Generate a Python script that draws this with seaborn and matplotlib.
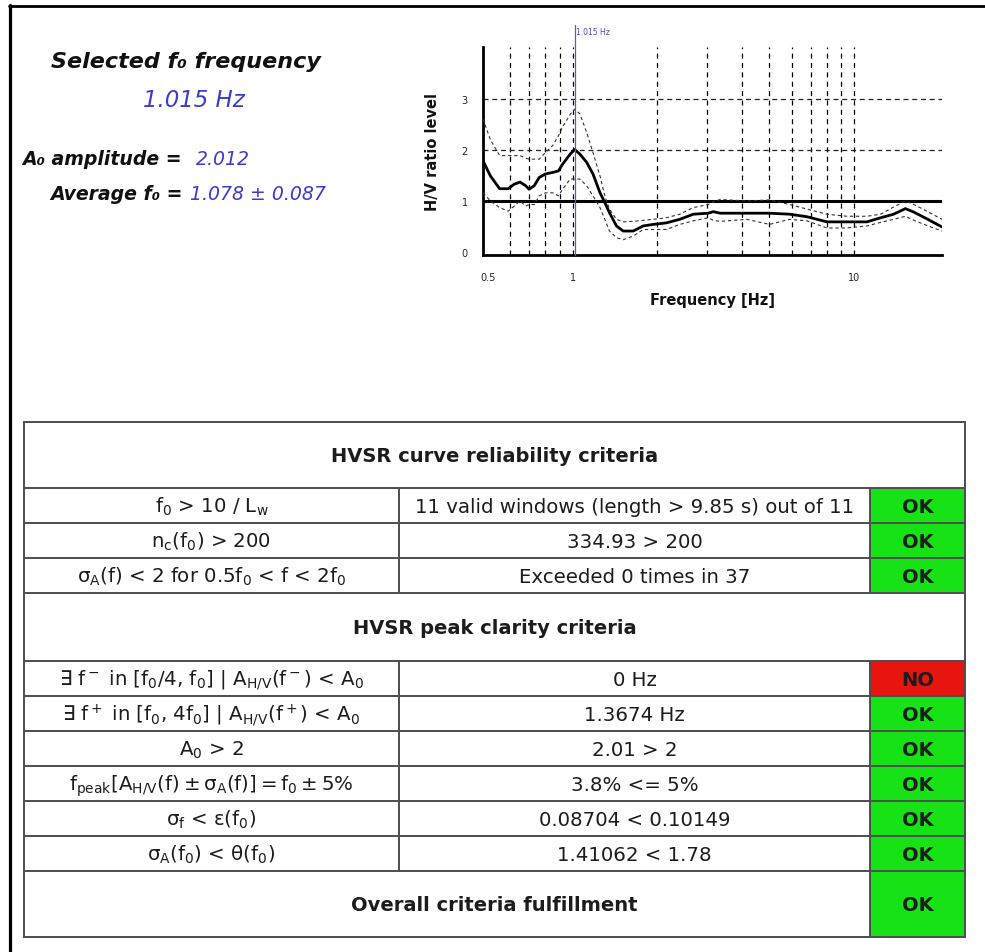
import matplotlib
matplotlib.use("Agg")
import matplotlib.pyplot as plt
import seaborn as sns
import pandas as pd
from matplotlib.patches import Rectangle
from matplotlib.ticker import NullLocator

# ---------------- data ----------------
freq = [0.48, 0.51, 0.55, 0.59, 0.62, 0.65, 0.68, 0.70, 0.73, 0.76,
        0.80, 0.85, 0.89, 0.92, 0.98, 1.015, 1.06, 1.12, 1.18, 1.25,
        1.30, 1.35, 1.43, 1.51, 1.64, 1.78, 1.93, 2.15, 2.40, 2.68,
        3.03, 3.16, 3.34, 4.15, 5.0, 5.9, 6.8, 8.0, 9.4, 11.1,
        12.4, 13.8, 15.2, 16.3, 18.1, 20.5]
hv_mean = [1.79, 1.49, 1.24, 1.24, 1.33, 1.37, 1.30, 1.23, 1.30, 1.46,
           1.53, 1.56, 1.59, 1.72, 1.92, 2.01, 1.92, 1.76, 1.53, 1.16,
           0.97, 0.77, 0.51, 0.41, 0.41, 0.51, 0.54, 0.57, 0.64, 0.74,
           0.76, 0.79, 0.76, 0.76, 0.76, 0.74, 0.69, 0.59, 0.59, 0.59,
           0.67, 0.74, 0.85, 0.78, 0.65, 0.49]
hv_upper = [2.61, 2.20, 1.89, 1.89, 1.89, 1.89, 1.84, 1.82, 1.82, 1.82,
            1.95, 2.09, 2.28, 2.45, 2.70, 2.80, 2.71, 2.35, 1.95, 1.49,
            1.10, 0.84, 0.64, 0.59, 0.60, 0.62, 0.64, 0.67, 0.74, 0.87,
            0.93, 0.98, 1.03, 1.00, 1.02, 0.93, 0.84, 0.74, 0.70, 0.70,
            0.74, 0.88, 1.00, 0.93, 0.80, 0.64]
hv_lower = [1.16, 1.00, 0.87, 0.80, 0.90, 1.00, 0.90, 0.93, 0.93, 1.10,
            1.16, 1.16, 1.10, 1.23, 1.43, 1.43, 1.43, 1.30, 1.10, 0.87,
            0.64, 0.41, 0.28, 0.24, 0.31, 0.44, 0.44, 0.44, 0.54, 0.61,
            0.67, 0.62, 0.60, 0.64, 0.54, 0.64, 0.61, 0.47, 0.47, 0.51,
            0.58, 0.64, 0.70, 0.62, 0.52, 0.41]
grid_freqs = [0.6, 0.7, 0.8, 0.9, 1, 2, 3, 4, 5, 6, 7, 8, 9, 10]
grid_levels = [2, 3]
reference_level = 1
f0_selected = 1.015
f0_label = "1.015 Hz"
x_ticks = [0.5, 1, 10]
x_tick_labels = ["0.5", "1", "10"]
y_ticks = [0, 1, 2, 3]
y_tick_labels = ["0", "1", "2", "3"]

title_text = "Selected f\u2080 frequency"
f0_text = "1.015 Hz"
amp_label = "A\u2080 amplitude = "
amp_value = "2.012"
avg_label = "Average f\u2080 = "
avg_value = "1.078 \u00b1 0.087"

reliability_title = "HVSR curve reliability criteria"
reliability_criteria = [r"$f_0$ > 10 / $L_w$",
                        r"$n_c(f_0)$ > 200",
                        r"$\sigma_A(f)$ < 2 for 0.5$f_0$ < f < 2$f_0$"]
reliability_values = ["11 valid windows (length > 9.85 s) out of 11",
                      "334.93 > 200",
                      "Exceeded 0 times in 37"]
reliability_status = ["OK", "OK", "OK"]

clarity_title = "HVSR peak clarity criteria"
clarity_criteria = [r"$\exists$ $f^-$ in [$f_0$/4, $f_0$] | $A_{H/V}(f^-)$ < $A_0$",
                    r"$\exists$ $f^+$ in [$f_0$, 4$f_0$] | $A_{H/V}(f^+)$ < $A_0$",
                    r"$A_0$ > 2",
                    r"$f_{peak}[A_{H/V}(f) \pm \sigma_A(f)] = f_0 \pm 5\%$",
                    r"$\sigma_f$ < $\varepsilon(f_0)$",
                    r"$\sigma_A(f_0)$ < $\theta(f_0)$"]
clarity_values = ["0 Hz", "1.3674 Hz", "2.01 > 2", "3.8% <= 5%",
                  "0.08704 < 0.10149", "1.41062 < 1.78"]
clarity_status = ["NO", "OK", "OK", "OK", "OK", "OK"]

overall_title = "Overall criteria fulfillment"
overall_status = "OK"

status_colors = {"OK": "#16e216", "NO": "#e8150f"}

# ---------------- style ----------------
sns.set_style("white")
plt.rcParams["font.family"] = ["DejaVu Sans"]
plt.rcParams["mathtext.fontset"] = "dejavusans"
plt.rcParams["mathtext.default"] = "regular"

W, H = 985, 953
fig = plt.figure(figsize=(W / 100, H / 100), dpi=100, facecolor="white")

bg = fig.add_axes([0, 0, 1, 1])
bg.set_xlim(0, W)
bg.set_ylim(H, 0)
bg.axis("off")

# page border lines
bg.plot([9, W], [6.5, 6.5], color="black", lw=2.0, clip_on=False)
bg.plot([10, 10], [6, H], color="black", lw=2.3, clip_on=False)

# ---------------- top-left texts ----------------
BLUE = "#3b3bcc"
bg.text(186, 68, title_text, ha="center", va="baseline", fontsize=16,
        fontweight="bold", style="italic", color="#111111")
bg.text(194, 107, f0_text, ha="center", va="baseline", fontsize=16.5,
        style="italic", color=BLUE)
bg.text(22, 165, amp_label, ha="left", va="baseline", fontsize=13.6,
        fontweight="bold", style="italic", color="#111111")
bg.text(196, 165, amp_value, ha="left", va="baseline", fontsize=13.6,
        style="italic", color=BLUE)
bg.text(50, 200, avg_label, ha="left", va="baseline", fontsize=13.6,
        fontweight="bold", style="italic", color="#111111")
bg.text(190, 200, avg_value, ha="left", va="baseline", fontsize=13.6,
        style="italic", color=BLUE)

# ---------------- chart ----------------
L, T, R, B = 483, 48, 942, 256
ax = fig.add_axes([L / W, 1 - B / H, (R - L) / W, (B - T) / H])
ax.patch.set_alpha(0)
ax.set_xscale("log")

df = pd.DataFrame({"freq": freq, "mean": hv_mean,
                   "upper": hv_upper, "lower": hv_lower})

for f in grid_freqs:
    ax.axvline(f, color="black", lw=0.9, ls=(0, (4, 3.5)), zorder=1)
for v in grid_levels:
    ax.axhline(v, color="#222222", lw=0.9, ls=(0, (4, 3)), zorder=1)
ax.axhline(reference_level, color="black", lw=2.2, zorder=3)

sns.lineplot(data=df, x="freq", y="upper", ax=ax, color="#333333",
             lw=0.8, linestyle=(0, (3, 2.5)), zorder=4)
sns.lineplot(data=df, x="freq", y="lower", ax=ax, color="#333333",
             lw=0.8, linestyle=(0, (3, 2.5)), zorder=4)
sns.lineplot(data=df, x="freq", y="mean", ax=ax, color="black",
             lw=2.0, zorder=5)

ax.plot([f0_selected, f0_selected], [0, 1.105], color="#5a5ad0", lw=0.9,
        transform=ax.get_xaxis_transform(), clip_on=False, zorder=6)
ax.text(f0_selected * 1.015, 1.075, f0_label, transform=ax.get_xaxis_transform(),
        fontsize=5.5, color="#4a4ac8", ha="left", va="center")

ax.set_xlim(0.48, 20.5)
ax.set_ylim(-0.06, 4.02)
ax.set_xticks(x_ticks)
ax.set_xticklabels(x_tick_labels)
ax.xaxis.set_minor_locator(NullLocator())
ax.set_yticks(y_ticks)
ax.set_yticklabels(y_tick_labels)
ax.tick_params(axis="x", length=3, width=1, pad=9, labelsize=7, colors="#222222")
ax.tick_params(axis="y", length=0, pad=11, labelsize=7, colors="#222222")

for side in ["top", "right"]:
    ax.spines[side].set_visible(False)
for side in ["left", "bottom"]:
    ax.spines[side].set_color("black")
    ax.spines[side].set_linewidth(2.0)
ax.grid(False)

ax.set_xlabel("Frequency [Hz]", fontsize=10.5, fontweight="bold", color="#111111")
ax.set_ylabel("H/V ratio level", fontsize=10.5, fontweight="bold", color="#111111")
ax.xaxis.set_label_coords(0.5, -(301 - B) / (B - T))
ax.xaxis.label.set_va("center")
ax.yaxis.set_label_coords(-(L - 432) / (R - L), 0.5)
ax.yaxis.label.set_va("center")

# ---------------- table ----------------
tl, tr = 24, 965
c1, c2 = 399, 870
LINE = "#4d4d4d"
TXT = "#1c1c1c"
heights = [66, 35, 35, 35, 68, 35, 35, 35, 35, 35, 35, 66]
bounds = [423]
for h in heights:
    bounds.append(bounds[-1] + h)

rows = [("header", reliability_title, None, None)]
rows += [("row", c, v, s) for c, v, s in zip(reliability_criteria, reliability_values, reliability_status)]
rows += [("header", clarity_title, None, None)]
rows += [("row", c, v, s) for c, v, s in zip(clarity_criteria, clarity_values, clarity_status)]
rows += [("overall", overall_title, None, overall_status)]

for i, (kind, a, b, s) in enumerate(rows):
    y0, y1 = bounds[i], bounds[i + 1]
    yc = (y0 + y1) / 2
    if kind == "header":
        bg.text((tl + tr) / 2, yc + 6, a, ha="center", va="baseline",
                fontsize=14, fontweight="bold", color=TXT)
    elif kind == "row":
        bg.add_patch(Rectangle((c2, y0), tr - c2, y1 - y0,
                               facecolor=status_colors[s], edgecolor="none", zorder=1))
        bg.text((tl + c1) / 2, yc + 6, a, ha="center", va="baseline",
                fontsize=14.2, color=TXT, zorder=3)
        bg.text((c1 + c2) / 2, yc + 6.5, b, ha="center", va="baseline",
                fontsize=14.2, color=TXT, zorder=3)
        bg.text((c2 + tr) / 2, yc + 6.5, s, ha="center", va="baseline",
                fontsize=14, fontweight="bold", color=TXT, zorder=3)
        bg.plot([c1, c1], [y0, y1], color=LINE, lw=1.4, zorder=2)
        bg.plot([c2, c2], [y0, y1], color=LINE, lw=1.4, zorder=2)
    else:
        bg.add_patch(Rectangle((c2, y0), tr - c2, y1 - y0,
                               facecolor=status_colors[s], edgecolor="none", zorder=1))
        bg.text((tl + tr) / 2, yc + 6.5, a, ha="center", va="baseline",
                fontsize=14, fontweight="bold", color=TXT, zorder=3)
        bg.text((c2 + tr) / 2, yc + 6.5, s, ha="center", va="baseline",
                fontsize=14, fontweight="bold", color=TXT, zorder=3)
        bg.plot([c2, c2], [y0, y1], color=LINE, lw=1.4, zorder=2)

for y in bounds:
    bg.plot([tl, tr], [y, y], color=LINE, lw=1.4, zorder=2, solid_capstyle="projecting")
bg.plot([tl, tl], [bounds[0], bounds[-1]], color=LINE, lw=1.4, zorder=2)
bg.plot([tr, tr], [bounds[0], bounds[-1]], color=LINE, lw=1.4, zorder=2)

fig.savefig("out.png", dpi=100, facecolor="white")
